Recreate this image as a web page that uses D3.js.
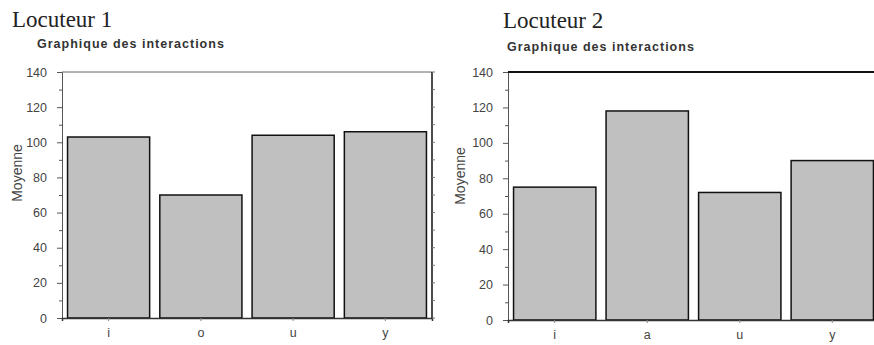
<!DOCTYPE html>
<html><head><meta charset="utf-8">
<script src="https://cdn.jsdelivr.net/npm/d3@7"></script>
<style>body{margin:0;background:#fff}svg{display:block}</style>
</head><body>
<svg id="c" width="874" height="345"></svg>
<script>
const categories1 = ["i", "o", "u", "y"];
const values1 = [103, 70, 104, 106];
const categories2 = ["i", "a", "u", "y"];
const values2 = [75, 118, 72, 90];
const yTicks = [0, 20, 40, 60, 80, 100, 120, 140];
const titles = ["Locuteur 1", "Locuteur 2"];
const subtitle = "Graphique des interactions";
const yLabel = "Moyenne";

const svg = d3.select("#c");
const sans = "Liberation Sans, Arial, sans-serif";

function panel(cfg) {
  const g = svg.append("g");
  const x = d3.scaleBand().domain(cfg.cats).range([cfg.x0, cfg.x1]).paddingInner(0.11).paddingOuter(0.06);
  const y = d3.scaleLinear().domain([0, 140]).range([cfg.yb, cfg.yt]);

  g.append("text").attr("x", cfg.tx).attr("y", cfg.ty)
    .attr("font-family", "Liberation Serif, Times New Roman, serif").attr("font-size", 23)
    .attr("fill", "#222").text(cfg.title);
  g.append("text").attr("x", cfg.sx).attr("y", cfg.sy)
    .attr("font-family", sans).attr("font-size", 12.5).attr("font-weight", "bold")
    .attr("letter-spacing", 1).attr("fill", "#333").text(subtitle);

  g.selectAll("rect.bar").data(cfg.vals).join("rect").attr("class", "bar")
    .attr("x", (d, i) => x(cfg.cats[i]))
    .attr("width", x.bandwidth())
    .attr("y", d => y(d))
    .attr("height", d => y(0) - y(d))
    .attr("fill", "#c0c0c0").attr("stroke", "#111").attr("stroke-width", 1.5);

  const ya = d3.axisLeft(y).tickValues(d3.range(0, 141, 10)).tickSize(5).tickFormat(d => yTicks.includes(d) ? d : "");
  const yg = g.append("g").attr("transform", `translate(${cfg.x0},0)`).call(ya);
  yg.select(".domain").attr("stroke", "#555");
  yg.selectAll(".tick line").attr("stroke", "#555").attr("x2", d => yTicks.includes(d) ? -5 : -3);
  yg.selectAll(".tick text").attr("font-family", sans).attr("font-size", 12.5)
    .attr("fill", "#444").attr("x", -15);

  const xa = d3.axisBottom(x).tickSize(3);
  const xg = g.append("g").attr("transform", `translate(0,${cfg.yb})`).call(xa);
  xg.select(".domain").attr("stroke", "#333").attr("stroke-width", 1.5);
  xg.selectAll(".tick line").attr("stroke", "#888");
  xg.selectAll(".tick text").attr("font-family", sans).attr("font-size", 12.5)
    .attr("fill", "#444").attr("y", 10);

  g.append("line").attr("x1", cfg.x0).attr("x2", cfg.x1).attr("y1", y(140)).attr("y2", y(140))
    .attr("stroke", cfg.topColor).attr("stroke-width", cfg.topW);
  g.append("line").attr("x1", cfg.x1).attr("x2", cfg.x1).attr("y1", y(140)).attr("y2", y(0))
    .attr("stroke", "#111").attr("stroke-width", 1.5);
  g.selectAll("line.rt").data(d3.range(0, 141, 10)).join("line").attr("class", "rt")
    .attr("x1", cfg.x1).attr("x2", cfg.x1 + 3).attr("y1", d => y(d)).attr("y2", d => y(d)).attr("stroke", "#777");

  g.append("text").attr("transform", `translate(${cfg.lx},${cfg.ly}) rotate(-90)`)
    .attr("text-anchor", "middle").attr("font-family", sans).attr("font-size", 14)
    .attr("fill", "#444").text(yLabel);
}

panel({cats: categories1, vals: values1, title: titles[0], x0: 62, x1: 432, yt: 72, yb: 318,
  tx: 12, ty: 27, sx: 37, sy: 48, lx: 22, ly: 173, topColor: "#666", topW: 1});
panel({cats: categories2, vals: values2, title: titles[1], x0: 508, x1: 879, yt: 72, yb: 320,
  tx: 503, ty: 28, sx: 507, sy: 51, lx: 465, ly: 176, topColor: "#111", topW: 2});
</script>
</body></html>
